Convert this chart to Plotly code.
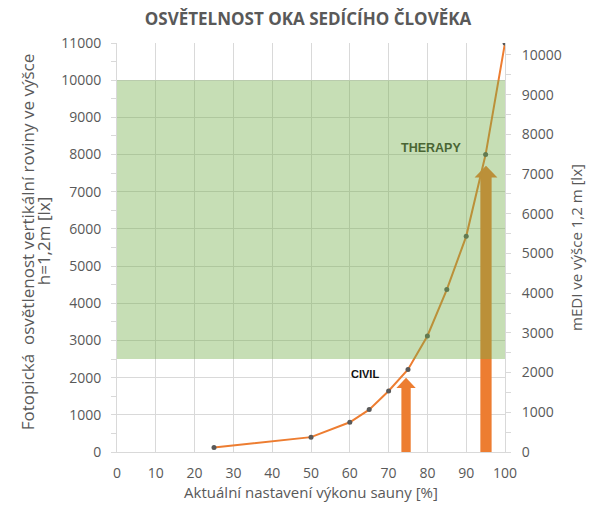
import plotly.graph_objects as go

# ---- data ----
power_pct = [25, 50, 60, 65, 70, 75, 80, 85, 90, 95, 100]
illuminance_lx = [120, 400, 800, 1140, 1640, 2220, 3120, 4370, 5800, 8000, 11000]

therapy_band = [2500, 10000]          # green zone (lx)
arrow_x = [74.5, 95.1]                 # arrow positions (%)
arrow_tip = [2000, 7700]               # arrow tips (lx)
labels = ["CIVIL", "THERAPY"]
label_x = [63.8, 80.8]
label_y = [2100, 8180]

x_ticks = list(range(0, 101, 10))

# ---- style ----
ORANGE = "#ED7D31"
GRAY = "#595959"
GRID = "#d9d9d9"
FONT = "Open Sans"
shaft_half = [1.2, 1.45]
head_half = [2.5, 2.95]
head_h = [280, 320]

fig = go.Figure()

# arrows (polygons built from data values)
for ax, tip, sh, hh, hgt in zip(arrow_x, arrow_tip, shaft_half, head_half, head_h):
    base = tip - hgt
    xs = [ax - sh, ax - sh, ax - hh, ax, ax + hh, ax + sh, ax + sh, ax - sh]
    ys = [0, base, base, tip, base, base, 0, 0]
    fig.add_trace(go.Scatter(x=xs, y=ys, fill="toself", fillcolor=ORANGE,
                             mode="lines", line=dict(width=0, color=ORANGE),
                             hoverinfo="skip", showlegend=False))

# main curve
fig.add_trace(go.Scatter(x=power_pct, y=illuminance_lx, mode="lines+markers",
                         line=dict(color=ORANGE, width=2),
                         marker=dict(color=GRAY, size=5),
                         showlegend=False))

# invisible trace for the right axis
fig.add_trace(go.Scatter(x=[power_pct[0]], y=[0], yaxis="y2", mode="markers",
                         marker=dict(opacity=0), hoverinfo="skip", showlegend=False))

# green therapy band
fig.add_shape(type="rect", xref="x", yref="y", x0=x_ticks[0], x1=x_ticks[-1],
              y0=therapy_band[0], y1=therapy_band[1],
              fillcolor="#70AD47", opacity=0.4, line=dict(width=0), layer="above")

fig.add_annotation(x=label_x[0], y=label_y[0], text="<b>%s</b>" % labels[0],
                   showarrow=False, font=dict(family="Liberation Sans", size=11, color="#111111"))
fig.add_annotation(x=label_x[1], y=label_y[1], text="<b>%s</b>" % labels[1],
                   showarrow=False, font=dict(family="Liberation Sans", size=12.5, color="#4a6534"))

# left axis title as two rotated lines
left_title = ["Fotopická  osvětlenost vertikální roviny ve výšce", "h=1,2m [lx]"]
for txt, xp in zip(left_title, [-0.232, -0.191]):
    fig.add_annotation(xref="paper", yref="paper", x=xp, y=0.515, text=txt, textangle=-90,
                       showarrow=False, xanchor="center", yanchor="middle",
                       font=dict(family=FONT, size=17, color=GRAY))

fig.update_layout(
    width=600, height=511,
    margin=dict(l=109, r=103, t=35, b=67),
    paper_bgcolor="white", plot_bgcolor="white",
    title=dict(text="<b>OSVĚTELNOST OKA SEDÍCÍHO ČLOVĚKA</b>", x=0.5, xanchor="center",
               y=0.9785, yanchor="middle",
               font=dict(family=FONT, size=17, color=GRAY)),
    xaxis=dict(range=[0, 100], tickvals=x_ticks, showgrid=True, gridcolor=GRID,
               zeroline=False, showline=True, linecolor=GRID, automargin=False,
               ticklabelstandoff=8,
               tickfont=dict(family=FONT, size=14, color=GRAY),
               title=dict(text="Aktuální nastavení výkonu sauny [%]", standoff=6,
                          font=dict(family=FONT, size=15, color=GRAY))),
    yaxis=dict(range=[0, 11000], dtick=1000, tickformat="d", showgrid=True, gridcolor=GRID,
               zeroline=False, showline=True, linecolor=GRID, automargin=False,
               ticks="outside", ticklen=5, tickcolor=GRID, ticklabelstandoff=7,
               minor=dict(dtick=500, ticks="outside", ticklen=5, tickcolor=GRID, showgrid=False),
               tickfont=dict(family=FONT, size=14, color=GRAY)),
    yaxis2=dict(range=[0, 10300], dtick=1000, tickformat="d", overlaying="y", side="right",
                showgrid=False, zeroline=False, showline=True, linecolor=GRID, automargin=False,
                ticks="outside", ticklen=5, tickcolor=GRID, ticklabelstandoff=8,
                minor=dict(dtick=500, ticks="outside", ticklen=5, tickcolor=GRID),
                tickfont=dict(family=FONT, size=14, color=GRAY),
                title=dict(text="mEDI ve výšce 1,2 m [lx]", standoff=10,
                           font=dict(family=FONT, size=15, color=GRAY))),
)

fig.write_html("out.html")
